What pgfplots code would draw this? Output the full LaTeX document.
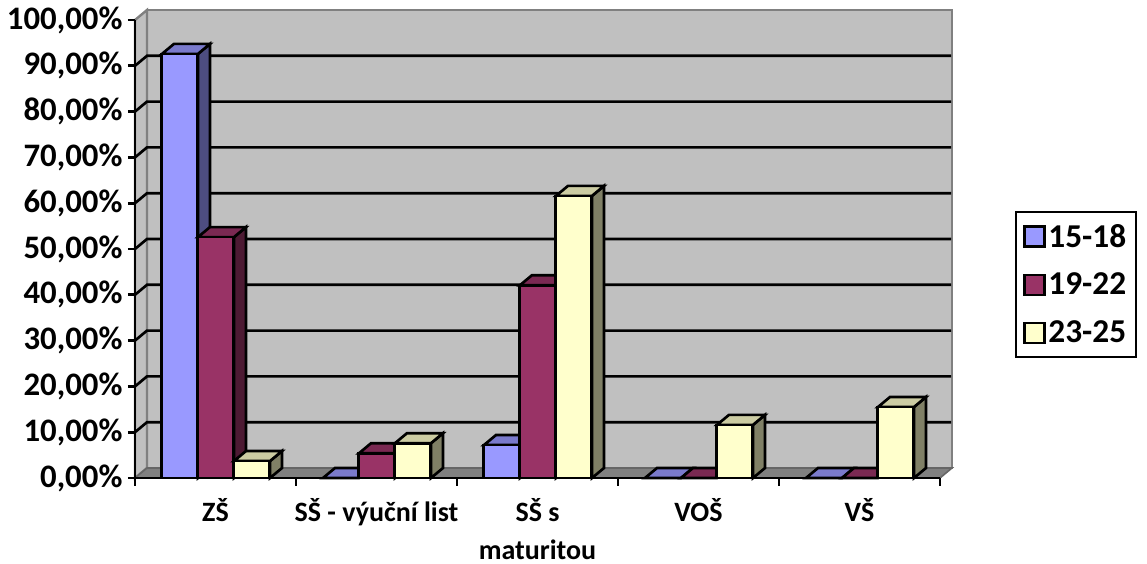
\documentclass[border=0pt]{standalone}
\usepackage{fontspec}
\setmainfont{Carlito}
\usepackage{pgfplots}
\usepackage{pgfplotstable}
\pgfplotsset{compat=1.18}
\definecolor{Wall}{HTML}{C0C0C0}
\definecolor{Edge}{HTML}{808080}
\definecolor{BlueF}{HTML}{9999FF}
\definecolor{BlueS}{HTML}{4D4D80}
\definecolor{BlueT}{HTML}{7A7ACC}
\definecolor{WineF}{HTML}{993366}
\definecolor{WineS}{HTML}{4D1A33}
\definecolor{WineT}{HTML}{7A2952}
\definecolor{YellF}{HTML}{FFFFCC}
\definecolor{YellS}{HTML}{808066}
\definecolor{YellT}{HTML}{CCCCA3}

% 1 px = 0.75 pt; depth of the fake 3D is 12 px across, 10 px up
\def\dx{0.07453}
\def\dy{2.1834}
\def\bw{0.2236}

\pgfplotstableread{
pos  a     b     c
0.5  92.6  52.6  3.7
1.5  0     5.4   7.6
2.5  7.2   42.1  61.6
3.5  0     0     11.6
4.5  0     0     15.5
}\shares

% side and top faces of one series: column, left offset, side colour, top colour
\newcommand\caps[4]{%
  \pgfplotsinvokeforeach{0,...,4}{%
    \pgfplotstablegetelem{##1}{#1}\of\shares
    \pgfmathsetmacro\barv{\pgfplotsretval}
    \pgfmathsetmacro\xl{##1+#2}
    \pgfmathsetmacro\xr{\xl+\bw}
    \pgfmathsetmacro\xlb{\xl+\dx}
    \pgfmathsetmacro\xrb{\xr+\dx}
    \pgfmathsetmacro\vb{\barv+\dy}
    \edef\tmp{\noexpand\addplot[forget plot,fill=#3,draw=black,line width=2pt]
      coordinates {(\xr,\barv) (\xrb,\vb) (\xrb,\dy) (\xr,0)} -- cycle;
      \noexpand\addplot[forget plot,fill=#4,draw=black,line width=2pt]
      coordinates {(\xl,\barv) (\xlb,\vb) (\xrb,\vb) (\xr,\barv)} -- cycle;}%
    \tmp
  }%
}

\pgfplotsset{
  front/.style={ybar,bar width=27pt,fill=#1,draw=black,line width=2pt,
    legend image code/.code={\draw[fill=#1,draw=black,line width=1.7pt] (0pt,-7.5pt) rectangle (15pt,7.5pt);}},
}

\begin{document}
\begin{tikzpicture}
\useasboundingbox (0,0) rectangle (860.25pt,423pt);
\begin{axis}[
  at={(101.25pt,64.5pt)},anchor=south west,
  scale only axis,width=603.75pt,height=343.5pt,
  xmin=0,xmax=5,ymin=0,ymax=100,
  clip=false,axis on top,
  axis x line*=bottom,axis y line*=left,
  axis line style={-,line width=2pt},
  tick align=outside,
  ytick={0,10,...,100},
  major tick length=5.25pt,
  minor tick length=6pt,
  ytick style={black,line width=2pt},
  xtick={0.5,1.5,2.5,3.5,4.5},
  xticklabels={ZŠ,SŠ - výuční list,SŠ s\\maturitou,VOŠ,VŠ},
  minor xtick={0,1,2,3,4,5},
  major x tick style={draw=none},
  minor x tick style={black,line width=2pt},
  yticklabel={\pgfmathprintnumber[fixed,fixed zerofill,precision=2,use comma,assume math mode=true]{\tick}\%},
  yticklabel style={font=\fontsize{24.6}{28}\selectfont\bfseries,inner sep=1pt,xshift=-3pt},
  xticklabel style={font=\fontsize{21}{28.5}\selectfont\bfseries,align=center,anchor=north,inner sep=0pt,yshift=-10pt},
  legend style={at={(1.0932,0.583)},anchor=north west,draw=black,line width=1.7pt,
    font=\fontsize{25}{30}\selectfont\bfseries,inner xsep=5.5pt,inner ysep=7pt,
    row sep=14pt,/tikz/every even column/.append style={column sep=5.5pt}},
  legend cell align=left,
]
% walls and floor
\draw[fill=Wall,draw=Edge,line width=1.8pt] (axis cs:\dx,\dy) rectangle (axis cs:5+\dx,100+\dy);
\draw[fill=Wall,draw=Edge,line width=1.8pt] (axis cs:0,0) -- (axis cs:\dx,\dy) -- (axis cs:\dx,100+\dy) -- (axis cs:0,100) -- cycle;
\draw[fill=Edge,draw=Edge!80!black,line width=1.2pt] (axis cs:0,0) -- (axis cs:\dx,\dy) -- (axis cs:5+\dx,\dy) -- (axis cs:5,0) -- cycle;
\pgfplotsinvokeforeach{10,20,...,90}{
  \draw[black,line width=2pt] (axis cs:0,#1) -- (axis cs:\dx,#1+\dy) -- (axis cs:5+\dx-0.006,#1+\dy);
}
\caps{a}{0.1677}{BlueS}{BlueT}
\addplot[front=BlueF,bar shift=-27pt] table[x=pos,y=a] {\shares};
\addlegendentry{15-18}
\caps{b}{0.3913}{WineS}{WineT}
\addplot[front=WineF,bar shift=0pt] table[x=pos,y=b] {\shares};
\addlegendentry{19-22}
\caps{c}{0.6149}{YellS}{YellT}
\addplot[front=YellF,bar shift=27pt] table[x=pos,y=c] {\shares};
\addlegendentry{23-25}
\end{axis}
\end{tikzpicture}
\end{document}
